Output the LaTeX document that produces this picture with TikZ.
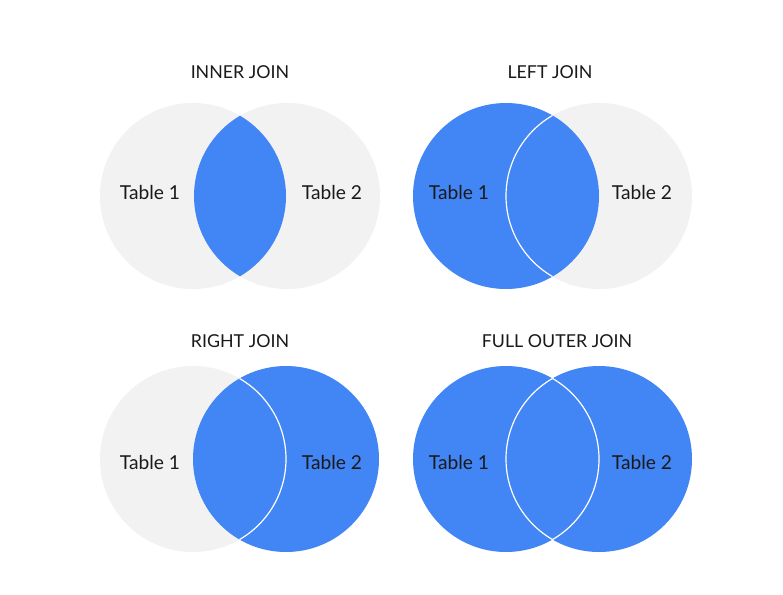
\documentclass[tikz,border=0pt]{standalone}
\usepackage{fontspec}
\setmainfont{Lato}
\usetikzlibrary{positioning}

\definecolor{joinblue}{HTML}{4285F4}
\definecolor{setgray}{HTML}{F2F2F2}
\definecolor{inkdark}{HTML}{1A1A1A}

\tikzset{
  title/.style={text=inkdark, font=\fontsize{17.8}{21}\selectfont},
  tablelabel/.style={text=inkdark, font=\fontsize{19.2}{23}\selectfont},
  seam/.style={draw=white, line width=1.2pt}
}

\begin{document}
\begin{tikzpicture}[x=1pt, y=-1pt]
  \useasboundingbox[fill=white] (0,0) rectangle (783,594);
  \def\r{93}

  % centres of the eight circles
  \coordinate (il) at (193,196);  \coordinate (ir) at (287,196);
  \coordinate (ll) at (506,196);  \coordinate (lr) at (599,196);
  \coordinate (rl) at (193,459);  \coordinate (rr) at (286,459);
  \coordinate (fl) at (506,459);  \coordinate (fr) at (599,459);

  % inner join
  \fill[setgray] (il) circle (\r) (ir) circle (\r);
  \begin{scope}
    \clip (il) circle (\r);
    \fill[joinblue] (ir) circle (\r);
  \end{scope}

  % left join
  \fill[setgray] (lr) circle (\r);
  \fill[joinblue] (ll) circle (\r);
  \begin{scope}
    \clip (ll) circle (\r);
    \draw[seam] (lr) circle (\r);
  \end{scope}

  % right join
  \fill[setgray] (rl) circle (\r);
  \fill[joinblue] (rr) circle (\r);
  \begin{scope}
    \clip (rr) circle (\r);
    \draw[seam] (rl) circle (\r);
  \end{scope}

  % full outer join
  \fill[joinblue] (fl) circle (\r) (fr) circle (\r);
  \begin{scope}
    \clip (fl) circle (\r);
    \draw[seam] (fr) circle (\r);
  \end{scope}
  \begin{scope}
    \clip (fr) circle (\r);
    \draw[seam] (fl) circle (\r);
  \end{scope}

  % titles
  \node[title] (innertitle) at (240,72) {INNER JOIN};
  \node[title] (lefttitle) at (550,72) {LEFT JOIN};
  \node[title] (righttitle) at (240,341) {RIGHT JOIN};
  \node[title] (fulltitle) at (557,341) {FULL OUTER JOIN};

  % table labels
  \node[tablelabel] (inner1) at (150,193) {Table 1};
  \node[tablelabel] (inner2) at (332,193) {Table 2};
  \node[tablelabel] (left1) at (459,193) {Table 1};
  \node[tablelabel] (left2) at (642,193) {Table 2};
  \node[tablelabel] (right1) at (150,462) {Table 1};
  \node[tablelabel] (right2) at (332,462) {Table 2};
  \node[tablelabel] (full1) at (459,462) {Table 1};
  \node[tablelabel] (full2) at (642,462) {Table 2};
\end{tikzpicture}
\end{document}
